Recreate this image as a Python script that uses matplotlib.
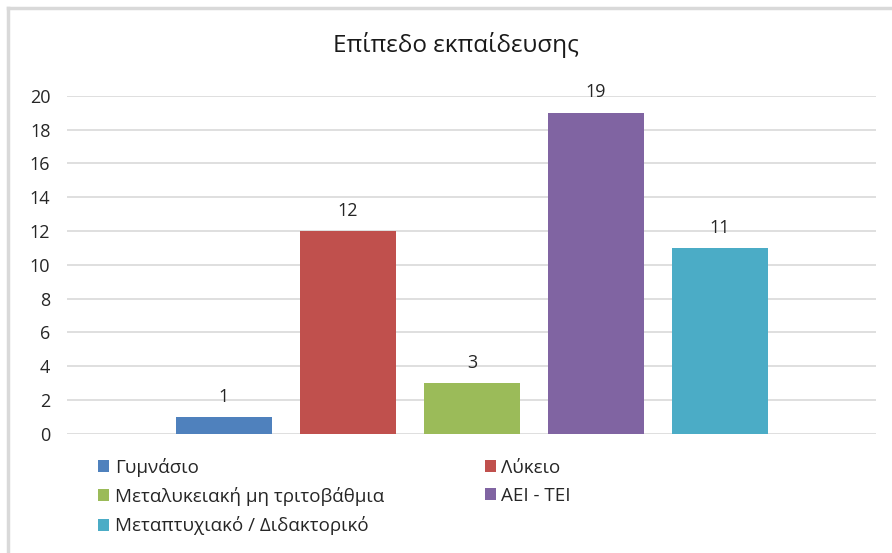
import matplotlib.pyplot as plt
from matplotlib.lines import Line2D

plt.rcParams['font.family'] = ['Open Sans', 'DejaVu Sans']

# data
levels = ['Γυμνάσιο', 'Λύκειο', 'Μεταλυκειακή μη τριτοβάθμια', 'ΑΕΙ - ΤΕΙ',
          'Μεταπτυχιακό / Διδακτορικό']
counts = [1, 12, 3, 19, 11]
colors = ['#4F81BD', '#C0504D', '#9BBB59', '#8064A2', '#4BACC6']
yticks = [0, 2, 4, 6, 8, 10, 12, 14, 16, 18, 20]

fig = plt.figure(figsize=(8.92, 5.53), dpi=100)
ax = fig.add_axes([0.0751, 0.2152, 0.907, 0.6118])

bars = []
for i in range(len(levels)):
    b = ax.bar(i, counts[i], width=0.78, color=colors[i], label=levels[i], zorder=3)
    ax.bar_label(b, padding=8, fontsize=13, color='#262626')
    bars.append(b)

ax.set_xlim(-1.266, 5.258)
ax.set_ylim(0, 20)
ax.set_yticks(yticks)
ax.set_xticks([])
ax.tick_params(axis='y', length=0, labelsize=13, labelcolor='#262626', pad=12)
ax.grid(axis='y', color='#D9D9D9', linewidth=1.2, zorder=0)
for s in ax.spines.values():
    s.set_visible(False)

fig.text(0.511, 0.918, 'Επίπεδο εκπαίδευσης', ha='center', va='center',
         fontsize=17.5, color='#1a1a1a')

# legend, filled row by row like the original
order = [0, 2, 4, 1, 3]
leg = fig.legend([bars[k] for k in order], [levels[k] for k in order], ncol=2,
                 loc='upper left', bbox_to_anchor=(0.110, 0.1726), frameon=False,
                 fontsize=13.5, handlelength=0.6, handleheight=0.6,
                 handletextpad=0.3, columnspacing=5.35, labelspacing=0.55,
                 borderaxespad=0, borderpad=0)
for t in leg.get_texts():
    t.set_color('#262626')

# outer frame (top and left edge visible)
fig.add_artist(Line2D([0.009, 0.009], [0, 0.985], color='#D9D9D9', linewidth=2.5))
fig.add_artist(Line2D([0.009, 1], [0.985, 0.985], color='#D9D9D9', linewidth=2.5))

fig.savefig('out.png', dpi=100)
